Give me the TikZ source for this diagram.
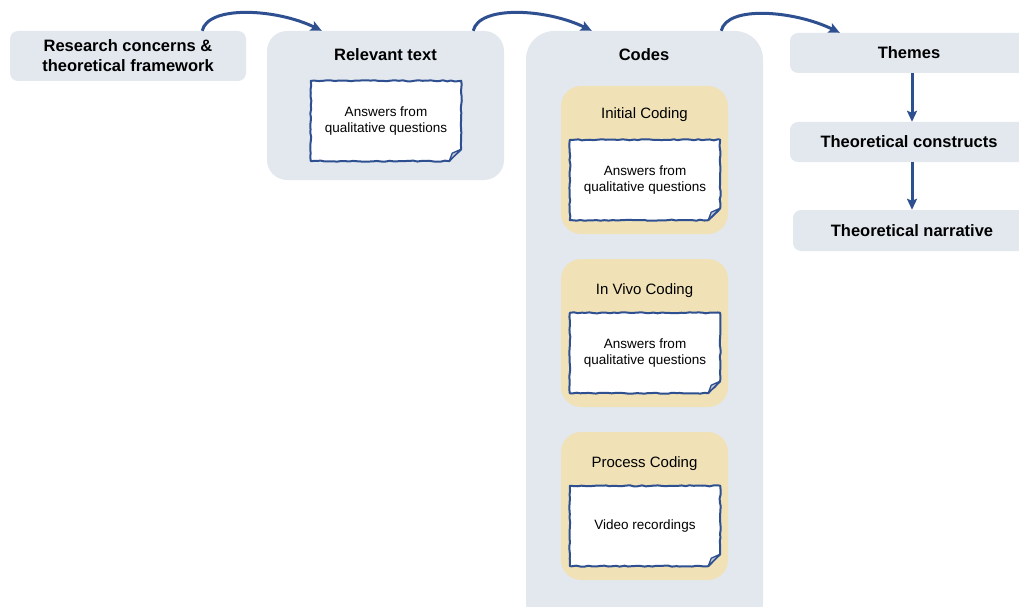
\documentclass[tikz,border=0pt]{standalone}
\usepackage{fontspec}
\setmainfont{Liberation Sans}
\usetikzlibrary{arrows.meta,decorations.pathmorphing,calc}
\definecolor{panelgrey}{HTML}{E3E8EF}
\definecolor{sand}{HTML}{F0E2B6}
\definecolor{ink}{HTML}{2F5090}
\definecolor{foldgrey}{HTML}{C5CAD3}

\tikzset{
  panel/.style={fill=panelgrey, draw=none, rounded corners=#1, inner sep=0pt},
  sandbox/.style={fill=sand, draw=none, rounded corners=20pt, minimum width=167pt, minimum height=148pt, inner sep=0pt},
  heading/.style={font=\bfseries\fontsize{16.5}{20}\selectfont, align=center, text=black},
  subheading/.style={font=\fontsize{15}{18}\selectfont, text=black},
  notetext/.style={font=\fontsize{13.5}{16.5}\selectfont, align=center, text=black},
  notebox/.style={minimum width=150pt, minimum height=80pt, inner sep=0pt, draw=none},
  noteline/.style={draw=ink, fill=white, line width=2pt, line join=round,
    decorate, decoration={random steps, segment length=4pt, amplitude=0.55pt}},
  foldline/.style={draw=ink, fill=foldgrey, line width=1.3pt, line join=round},
  flow/.style={draw=ink, line width=3pt, -{Stealth[length=11pt,width=10pt,inset=2pt]}},
}

% a sheet of paper with a turned-up bottom-right corner, drawn round a node
\newcommand\drawnote[1]{%
  \path[noteline] (#1.north west) -- (#1.north east) -- ([yshift=12pt]#1.south east)
    -- ([xshift=-12pt]#1.south east) -- (#1.south west) -- cycle;
  \path[foldline] ([yshift=12pt]#1.south east) -- ([xshift=-12pt]#1.south east)
    -- ([xshift=-9pt,yshift=8pt]#1.south east) -- cycle;
}

\begin{document}
\begin{tikzpicture}[x=1pt, y=-1pt]
\pgfmathsetseed{7}
\useasboundingbox (0,0) rectangle (1019,607);
\clip (0,0) rectangle (1019,607);

% left column
\node[panel=8pt, minimum width=236pt, minimum height=50pt] (research) at (128,56) {};
\node[heading] (researchlabel) at (research) {Research concerns \&\\theoretical framework};

\node[panel=20pt, minimum width=237pt, minimum height=149pt] (relevant) at (385.5,105.5) {};
\node[heading] (relevantlabel) at (385.5,55) {Relevant text};
\node[notebox] (note0) at (386,121) {};
\drawnote{note0}
\node[notetext] at (note0) {Answers from\\qualitative questions};

% codes column
\node[panel=28pt, minimum width=237pt, minimum height=600pt] (codes) at (644.5,331) {};
\node[heading] (codeslabel) at (644,55) {Codes};

\node[sandbox] (initial) at (644.5,160) {};
\node[subheading] (initiallabel) at (644.5,115) {Initial Coding};
\node[notebox] (note1) at (645,180) {};
\drawnote{note1}
\node[notetext] at (note1) {Answers from\\qualitative questions};

\node[sandbox] (invivo) at (644.5,333) {};
\node[subheading] (invivolabel) at (644.5,291) {In Vivo Coding};
\node[notebox] (note2) at (645,353) {};
\drawnote{note2}
\node[notetext] at (note2) {Answers from\\qualitative questions};

\node[sandbox] (process) at (644.5,506) {};
\node[subheading] (processlabel) at (644.5,464) {Process Coding};
\node[notebox] (note3) at (645,526) {};
\drawnote{note3}
\node[notetext] at (note3) {Video recordings};

% right column
\node[panel=8pt, minimum width=250pt, minimum height=40pt] (themes) at (915,53) {};
\node[heading] at (909,53) {Themes};
\node[panel=8pt, minimum width=250pt, minimum height=40pt] (constructs) at (915,142) {};
\node[heading] at (909,142) {Theoretical constructs};
\node[panel=8pt, minimum width=247pt, minimum height=41pt] (narrative) at (916.5,230.5) {};
\node[heading] at (912,231) {Theoretical narrative};

% connectors
\draw[flow] ([xshift=-44pt]research.north east) .. controls +(6,-26) and +(-45,-22) .. ([xshift=55pt]relevant.north west);
\draw[flow] ([xshift=-31pt]relevant.north east) .. controls +(6,-26) and +(-45,-22) .. ([xshift=66pt]codes.north west);
\draw[flow] ([xshift=-42pt]codes.north east) .. controls +(6,-26) and +(-45,-22) .. ([xshift=50pt]themes.north west);
\draw[flow] (themes.south -| 912,0) -- (constructs.north -| 912,0);
\draw[flow] (constructs.south -| 912,0) -- (narrative.north -| 912,0);
\end{tikzpicture}
\end{document}
